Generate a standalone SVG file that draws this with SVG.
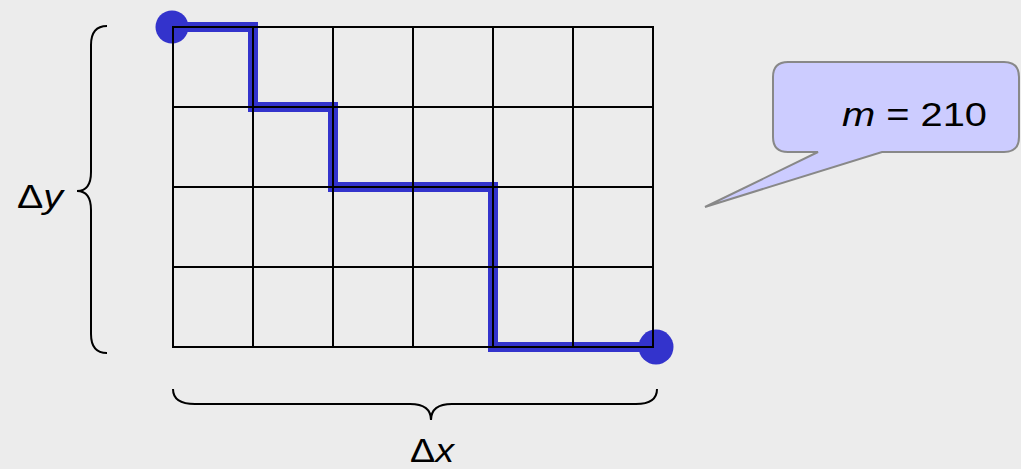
<svg xmlns="http://www.w3.org/2000/svg" width="1021" height="469" viewBox="0 0 1021 469">
<style>
.grid{stroke:#000;stroke-width:2;fill:none}
.brace{stroke:#000;stroke-width:2;fill:none}
.route{stroke:#3333cc;stroke-width:10;fill:none;stroke-linejoin:miter}
.dot{fill:#3333cc}
.lbl{font-family:"Liberation Sans",Arial,sans-serif;font-size:34px;fill:#000}
.it{font-style:italic}
</style>
<rect width="1021" height="469" fill="#ececec"/>
<g id="connectors">
<path id="route" class="route" d="M173,27H253V107H333V187H493V347H653"/>
<path class="brace" d="M107,26Q91,26 91,45V172Q91,191 77,191Q91,191 91,210V334Q91,353 107,353"/>
<path class="brace" d="M173,389Q173,404 195,404H410Q431,404 431,420Q431,404 452,404H636Q657,404 657,389"/>
</g>
<g id="start"><circle class="dot" cx="172" cy="27" r="16.5"/></g>
<g id="end"><circle class="dot" cx="656" cy="347" r="17.5"/></g>
<g id="grid">
<rect class="grid" x="173" y="27" width="480" height="320"/>
<path class="grid" d="M253,27V347M333,27V347M413,27V347M493,27V347M573,27V347M173,107H653M173,187H653M173,267H653"/>
</g>
<g id="label-dy"><text class="lbl" x="17" y="208" textLength="46" lengthAdjust="spacingAndGlyphs">Δ<tspan class="it">y</tspan></text></g>
<g id="label-dx"><text class="lbl" x="410" y="462" textLength="44" lengthAdjust="spacingAndGlyphs">Δ<tspan class="it">x</tspan></text></g>
<g id="callout">
<path d="M788,62H1004Q1019,62 1019,77V137Q1019,152 1004,152H882L705,207L818,152H788Q773,152 773,137V77Q773,62 788,62Z" fill="#ccccff" stroke="#888" stroke-width="2"/>
<text class="lbl" x="842" y="126" textLength="145" lengthAdjust="spacingAndGlyphs"><tspan class="it">m</tspan> = 210</text>
</g>
</svg>
